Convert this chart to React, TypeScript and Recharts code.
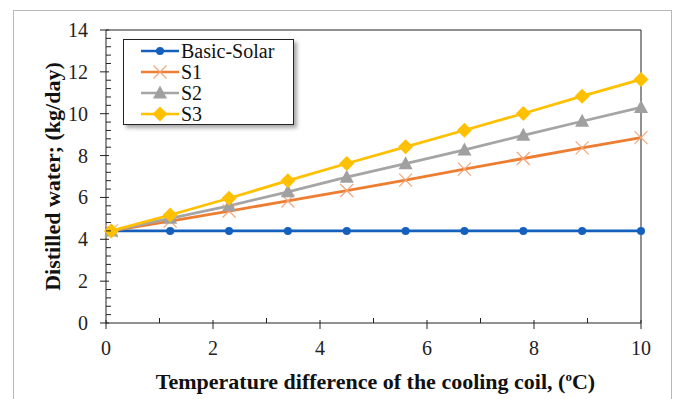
import React from 'react'
import { LineChart, Line, XAxis, YAxis, Legend, ReferenceLine, Label } from 'recharts'

// temperature difference of the cooling coil (ºC)
const xValues = [0.1, 1.2, 2.3, 3.4, 4.5, 5.6, 6.7, 7.8, 8.9, 10]
// distilled water (kg/day)
const basicSolar = [4.4, 4.4, 4.4, 4.4, 4.4, 4.4, 4.4, 4.4, 4.4, 4.4]
const s1 = [4.4, 4.87, 5.35, 5.83, 6.33, 6.83, 7.35, 7.86, 8.37, 8.86]
const s2 = [4.4, 5.0, 5.6, 6.27, 6.97, 7.61, 8.27, 8.97, 9.64, 10.3]
const s3 = [4.4, 5.16, 5.96, 6.8, 7.62, 8.42, 9.21, 10.01, 10.84, 11.64]

const xTicks = [0, 1, 2, 3, 4, 5, 6, 7, 8, 9, 10]
const xLabels = [0, 2, 4, 6, 8, 10]
const yTicks = [
  0, 0.4, 0.8, 1.2, 1.6, 2, 2.4, 2.8, 3.2, 3.6, 4, 4.4, 4.8, 5.2, 5.6, 6, 6.4, 6.8,
  7.2, 7.6, 8, 8.4, 8.8, 9.2, 9.6, 10, 10.4, 10.8, 11.2, 11.6, 12, 12.4, 12.8, 13.2,
  13.6, 14,
]
const yLabels = [0, 2, 4, 6, 8, 10, 12, 14]

const FONT = '"Liberation Serif", "Times New Roman", serif'
const AXIS = '#222'

const data = xValues.map((x, i) => ({
  x,
  basic: basicSolar[i],
  s1: s1[i],
  s2: s2[i],
  s3: s3[i],
}))

type MarkerKind = 'circle' | 'cross' | 'triangle' | 'diamond'

function Marker({ kind, cx, cy, color }: { kind: MarkerKind; cx: number; cy: number; color: string }) {
  if (kind === 'circle') return <circle cx={cx} cy={cy} r={4} fill={color} />
  if (kind === 'cross')
    return (
      <g stroke={color} strokeWidth={1.2}>
        <line x1={cx - 6.5} y1={cy - 6.5} x2={cx + 6.5} y2={cy + 6.5} />
        <line x1={cx - 6.5} y1={cy + 6.5} x2={cx + 6.5} y2={cy - 6.5} />
      </g>
    )
  if (kind === 'triangle')
    return <polygon points={`${cx},${cy - 7.5} ${cx + 7},${cy + 5.5} ${cx - 7},${cy + 5.5}`} fill={color} />
  return <polygon points={`${cx},${cy - 7.5} ${cx + 7.5},${cy} ${cx},${cy + 7.5} ${cx - 7.5},${cy}`} fill={color} />
}

const SERIES = [
  { key: 'basic', name: 'Basic-Solar', color: '#1560BD', markerColor: '#1560BD', marker: 'circle' as MarkerKind },
  { key: 's1', name: 'S1', color: '#ED7D31', markerColor: '#F2A77A', marker: 'cross' as MarkerKind },
  { key: 's2', name: 'S2', color: '#A5A5A5', markerColor: '#A0A0A0', marker: 'triangle' as MarkerKind },
  { key: 's3', name: 'S3', color: '#FFC000', markerColor: '#FFC000', marker: 'diamond' as MarkerKind },
]

function XTick(props: any) {
  const { x, y, payload } = props
  const major = xLabels.includes(payload.value)
  return (
    <g>
      {major ? (
        <line x1={x} x2={x} y1={y - 3} y2={y + 6} stroke={AXIS} />
      ) : (
        <line x1={x} x2={x} y1={y - 5} y2={y} stroke={AXIS} />
      )}
      {major && (
        <text x={x} y={y + 32} textAnchor="middle" fontFamily={FONT} fontSize={20} fill="#222">
          {payload.value}
        </text>
      )}
    </g>
  )
}

function YTick(props: any) {
  const { x, y, payload } = props
  const major = yLabels.includes(payload.value)
  return (
    <g>
      {major ? (
        <line x1={x - 6} x2={x + 3} y1={y} y2={y} stroke={AXIS} />
      ) : (
        <line x1={x} x2={x + 5} y1={y} y2={y} stroke={AXIS} />
      )}
      {major && (
        <text x={x - 18} y={y + 7} textAnchor="end" fontFamily={FONT} fontSize={20} fill="#222">
          {payload.value}
        </text>
      )}
    </g>
  )
}

function LegendBox(props: any) {
  const payload = props.payload || []
  return (
    <div
      style={{
        width: 171,
        height: 86,
        boxSizing: 'border-box',
        border: '1.5px solid #222',
        background: '#fff',
        boxShadow: '3px 3px 4px rgba(0,0,0,0.35)',
        padding: '0 0 0 17px',
        fontFamily: FONT,
        fontSize: 20,
        color: '#111',
      }}
    >
      {payload.map((p: any) => {
        const s = SERIES.find((d) => d.key === p.dataKey) || SERIES[0]
        return (
          <div key={s.key} style={{ display: 'flex', alignItems: 'center', height: 21.2 }}>
            <svg width={38} height={16} style={{ display: 'block' }}>
              <line x1={0} x2={38} y1={8} y2={8} stroke={s.color} strokeWidth={2.5} />
              <Marker kind={s.marker} cx={19} cy={8} color={s.markerColor} />
            </svg>
            <span style={{ marginLeft: 2, lineHeight: '20px' }}>{s.name}</span>
          </div>
        )
      })}
    </div>
  )
}

export default function App() {
  return (
    <div style={{ position: 'absolute', left: 0, top: 0, width: 677, height: 399, background: '#fff' }}>
      <div
        style={{
          position: 'absolute',
          left: 13,
          top: 10,
          width: 657,
          height: 388,
          border: '1px solid #b8b8b8',
        }}
      />
      <div style={{ position: 'absolute', left: 0, top: 0 }}>
        <LineChart width={677} height={399} data={data} margin={{ top: 30, right: 36, bottom: 0, left: 0 }}>
          <XAxis
            dataKey="x"
            type="number"
            domain={[0, 10]}
            ticks={xTicks}
            interval={0}
            tick={<XTick />}
            tickLine={false}
            tickSize={0}
            tickMargin={0}
            axisLine={{ stroke: AXIS }}
            height={76}
          >
            <Label
              content={(p: any) => {
                const vb = p.viewBox
                return (
                  <text
                    x={vb.x + vb.width / 2 + 2}
                    y={vb.y + 66}
                    textAnchor="middle"
                    fontFamily={FONT}
                    fontWeight="bold"
                    fontSize={22}
                    fill="#111"
                  >
                    Temperature difference of the cooling coil, (
                    <tspan dy={-8} fontSize={13}>o</tspan>
                    <tspan dy={8}>C)</tspan>
                  </text>
                )
              }}
            />
          </XAxis>
          <YAxis
            type="number"
            domain={[0, 14]}
            ticks={yTicks}
            interval={0}
            tick={<YTick />}
            tickLine={false}
            tickSize={0}
            tickMargin={0}
            axisLine={{ stroke: AXIS }}
            width={106}
          >
            <Label
              content={(p: any) => {
                const vb = p.viewBox
                const cy = vb.y + vb.height / 2
                return (
                  <text
                    x={60}
                    y={cy}
                    transform={`rotate(-90, 60, ${cy})`}
                    textAnchor="middle"
                    fontFamily={FONT}
                    fontWeight="bold"
                    fontSize={22}
                    fill="#111"
                  >
                    Distilled water; (kg/day)
                  </text>
                )
              }}
            />
          </YAxis>
          <ReferenceLine y={14} stroke={AXIS} />
          <ReferenceLine x={10} stroke={AXIS} />
          {SERIES.map((s) => (
            <Line
              key={s.key}
              dataKey={s.key}
              name={s.name}
              type="linear"
              stroke={s.color}
              strokeWidth={2.8}
              isAnimationActive={false}
              dot={(d: any) => (
                <Marker key={`${s.key}-${d.index}`} kind={s.marker} cx={d.cx} cy={d.cy} color={s.markerColor} />
              )}
              activeDot={false}
            />
          ))}
          <Legend
            layout="vertical"
            align="center"
            verticalAlign="middle"
            content={<LegendBox />}
            wrapperStyle={{ left: 123, top: 39, width: 171 }}
          />
        </LineChart>
      </div>
    </div>
  )
}
